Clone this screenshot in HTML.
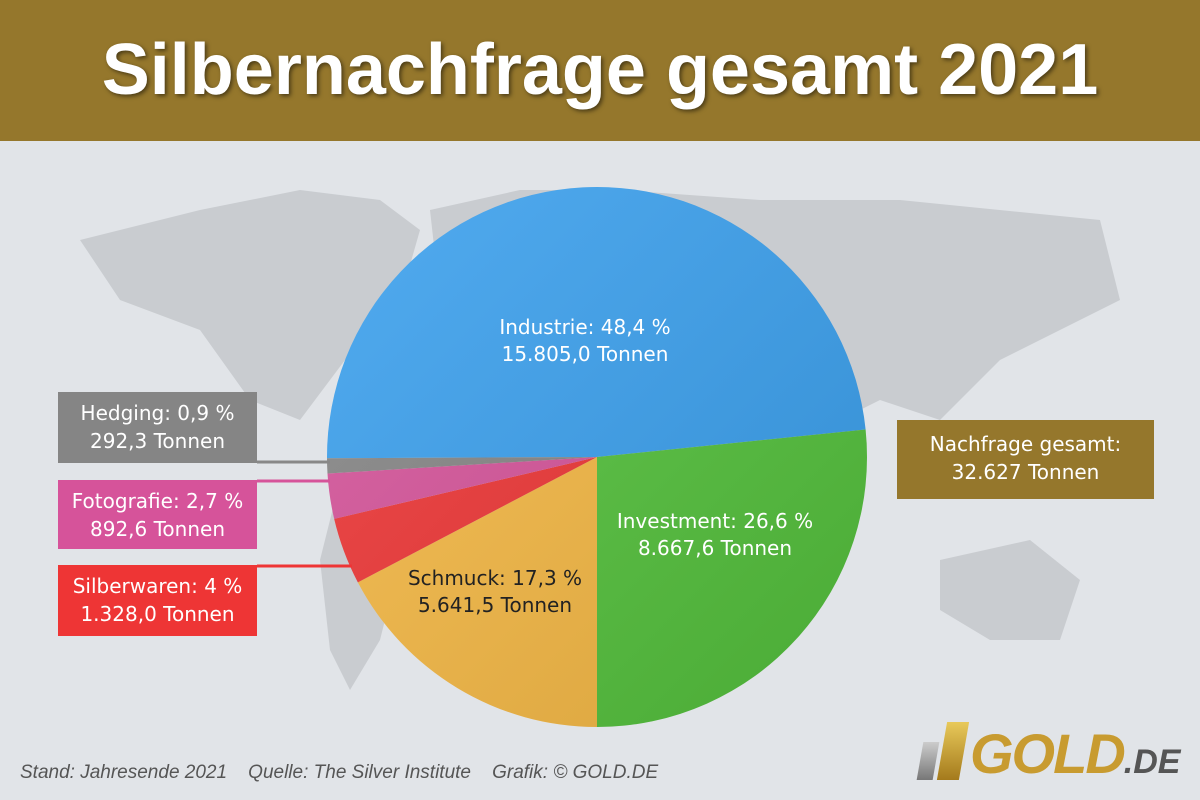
<!DOCTYPE html>
<html><head><meta charset="utf-8"><style>
body{margin:0;width:1200px;height:800px;overflow:hidden;background:#e1e4e8;font-family:"DejaVu Sans","Liberation Sans",sans-serif;position:relative}
#hdr{position:absolute;left:0;top:0;width:1200px;height:141px;background:#95772c;color:#fff;font-family:"Liberation Sans",sans-serif;font-weight:bold;font-size:72px;text-align:center;line-height:141px;text-shadow:2px 2px 4px rgba(0,0,0,.5)}
.box{position:absolute;color:#fff;font-size:20px;text-align:center;line-height:28px;padding-top:7px;box-sizing:border-box}
#foot{position:absolute;left:20px;top:762px;font-family:"Liberation Sans",sans-serif;font-style:italic;font-size:19px;color:#555;white-space:nowrap}
</style></head><body>
<div id="hdr">Silbernachfrage gesamt 2021</div>
<svg width="1200" height="800" style="position:absolute;left:0;top:0">
<g fill="#c9ccd0">
<path d="M80 240 L200 210 L300 190 L380 200 L420 230 L400 300 L360 340 L330 380 L300 420 L250 400 L200 330 L120 300 Z"/>
<path d="M340 480 L380 500 L400 560 L380 640 L350 690 L330 650 L320 560 Z"/>
<path d="M430 210 L520 190 L620 190 L760 200 L900 200 L1100 220 L1120 300 L1000 360 L940 420 L880 400 L840 420 L780 400 L700 420 L640 400 L560 380 L480 350 L440 300 Z"/>
<path d="M940 560 L1030 540 L1080 580 L1060 640 L990 640 L940 610 Z"/>
</g>
<defs><linearGradient id="sh" x1="0" y1="0" x2="1" y2="1"><stop offset="0" stop-color="#fff" stop-opacity=".12"/><stop offset="1" stop-color="#000" stop-opacity=".12"/></linearGradient></defs>
<g id="slices"></g>
<circle cx="597" cy="457" r="270" fill="url(#sh)"/>
<g stroke-width="3" fill="none">
<line x1="257" y1="462" x2="330" y2="462" stroke="#888"/>
<line x1="257" y1="481" x2="330" y2="481" stroke="#d6539a"/>
<line x1="257" y1="566" x2="352" y2="566" stroke="#ee3535"/>
</g>
<g font-size="20" text-anchor="middle" font-family="DejaVu Sans,Liberation Sans,sans-serif">
<text x="585" y="334" fill="#fff">Industrie: 48,4 %</text><text x="585" y="361" fill="#fff">15.805,0 Tonnen</text>
<text x="715" y="528" fill="#fff">Investment: 26,6 %</text><text x="715" y="555" fill="#fff">8.667,6 Tonnen</text>
<text x="495" y="585" fill="#222">Schmuck: 17,3 %</text><text x="495" y="612" fill="#222">5.641,5 Tonnen</text>
</g>
</svg>
<div class="box" style="left:58px;top:392px;width:199px;height:71px;background:#858585">Hedging: 0,9 %<br>292,3 Tonnen</div>
<div class="box" style="left:58px;top:480px;width:199px;height:69px;background:#d6539a">Fotografie: 2,7 %<br>892,6 Tonnen</div>
<div class="box" style="left:58px;top:565px;width:199px;height:71px;background:#ee3535">Silberwaren: 4 %<br>1.328,0 Tonnen</div>
<div class="box" style="left:897px;top:420px;width:257px;height:79px;background:#95772c;padding-top:10px">Nachfrage gesamt:<br>32.627 Tonnen</div>
<div id="foot">Stand: Jahresende 2021 &nbsp;&nbsp; Quelle: The Silver Institute &nbsp;&nbsp; Grafik: © GOLD.DE</div>
<div style="position:absolute;left:918px;top:718px;width:280px;height:70px">
<div style="position:absolute;left:2px;top:24px;width:16px;height:38px;background:linear-gradient(#ccc,#777);transform:skewX(-10deg)"></div>
<div style="position:absolute;left:24px;top:4px;width:22px;height:58px;background:linear-gradient(#e8c95a,#a47a1c);transform:skewX(-10deg)"></div>
<div style="position:absolute;left:52px;top:8px;font:italic bold 56px 'Liberation Sans',sans-serif;color:#c89b30;line-height:56px;white-space:nowrap;letter-spacing:-2px">GOLD<span style="font-size:34px;color:#555;letter-spacing:0">.DE</span></div>
</div>
<script>
const categories=["Industrie","Investment","Schmuck","Silberwaren","Fotografie","Hedging"];
const values=[48.4,26.6,17.3,4,2.7,0.9];
const colors=["#3aa0ee","#54c23c","#f6b944","#ee3535","#d6539a","#858585"];
const cx=597,cy=457,r=270;
const total=values.reduce((a,b)=>a+b,0);
let ang=90-values[1]/total*360-values[0]/total*360;
const g=document.getElementById('slices');
values.forEach((v,i)=>{
 const a0=ang*Math.PI/180; ang+=v/total*360; const a1=ang*Math.PI/180;
 const large=(a1-a0)>Math.PI?1:0;
 const p=document.createElementNS('http://www.w3.org/2000/svg','path');
 p.setAttribute('d',`M${cx} ${cy} L${cx+r*Math.cos(a0)} ${cy+r*Math.sin(a0)} A${r} ${r} 0 ${large} 1 ${cx+r*Math.cos(a1)} ${cy+r*Math.sin(a1)} Z`);
 p.setAttribute('fill',colors[i]);
 
 
 g.appendChild(p);
});
</script>
</body></html>
